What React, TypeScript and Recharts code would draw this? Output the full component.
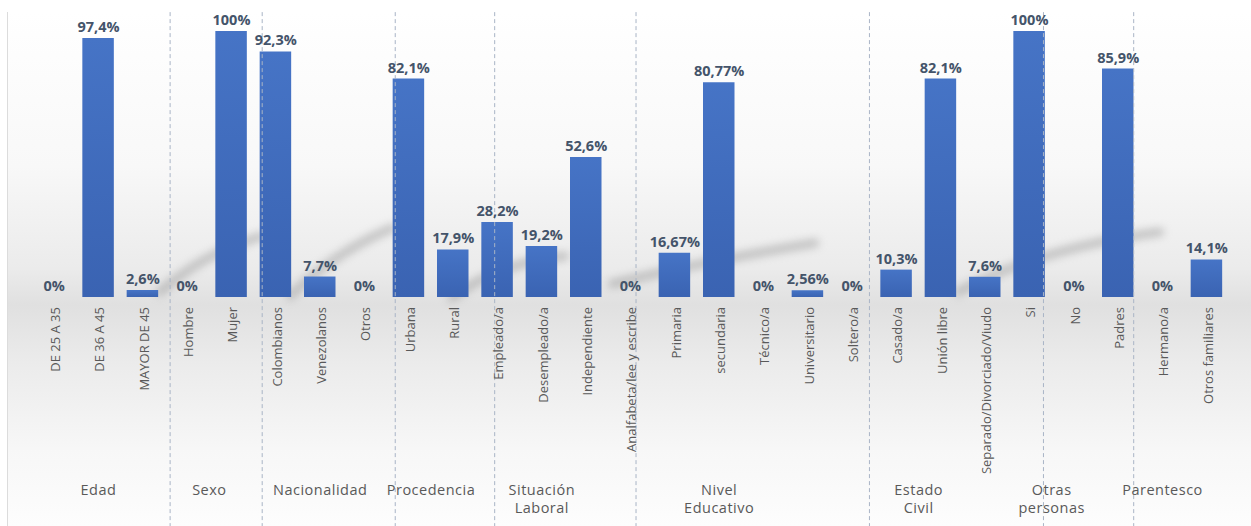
import React from 'react';
import { ComposedChart, Bar, Line, XAxis, YAxis, LabelList, ReferenceLine } from 'recharts';

const categories = [
  'DE 25 A 35', 'DE 36 A 45', 'MAYOR DE 45',
  'Hombre', 'Mujer',
  'Colombianos', 'Venezolanos', 'Otros',
  'Urbana', 'Rural',
  'Empleado/a', 'Desempleado/a', 'Independiente',
  'Analfabeta/lee y escribe', 'Primaria', 'secundaria', 'Técnico/a', 'Universitario',
  'Soltero/a', 'Casado/a', 'Unión libre', 'Separado/Divorciado/Viudo',
  'Si', 'No',
  'Padres', 'Hermano/a', 'Otros familiares',
];

const values = [
  0, 97.4, 2.6,
  0, 100,
  92.3, 7.7, 0,
  82.1, 17.9,
  28.2, 19.2, 52.6,
  0, 16.67, 80.77, 0, 2.56,
  0, 10.3, 82.1, 7.6,
  100, 0,
  85.9, 0, 14.1,
];

const groupNames = [
  ['Edad'], ['Sexo'], ['Nacionalidad'], ['Procedencia'], ['Situación', 'Laboral'],
  ['Nivel', 'Educativo'], ['Estado', 'Civil'], ['Otras', 'personas'], ['Parentesco'],
];
const groupSizes = [3, 2, 3, 2, 3, 5, 4, 2, 3];

// separator positions in category units
const separators = [3.0, 5.0, 7.89, 10.05, 13.12, 18.19, 21.97, 23.93];

const data = categories.map((c, i) => ({ cat: c, value: values[i] }));

const W = 1251;
const H = 526;
const M = { top: 31, right: 22, left: 32, bottom: 0 };
const AXIS_H = 229;
const BW = (W - M.left - M.right) / categories.length;

const groupStart: Record<number, number> = {};
{
  let s = 0;
  groupSizes.forEach((n, g) => {
    groupStart[s] = g;
    s += n;
  });
}

const FONT = '"Open Sans", "DejaVu Sans", sans-serif';

const CatTick = (props: any) => {
  const { x, y, payload, index } = props;
  const g = groupStart[index];
  let groupEl = null;
  if (g !== undefined) {
    const cx = x - BW / 2 + (groupSizes[g] * BW) / 2;
    groupEl = (
      <text
        x={cx}
        y={y + 190}
        textAnchor="middle"
        fill="#595959"
        fontSize={14.5}
        fontFamily={FONT}
        letterSpacing={0.5}
      >
        {groupNames[g].map((ln, k) => (
          <tspan key={k} x={cx} dy={k === 0 ? 0 : 18.3}>
            {ln}
          </tspan>
        ))}
      </text>
    );
  }
  return (
    <g>
      <text
        transform={`translate(${x},${y + 2}) rotate(-90)`}
        textAnchor="end"
        dy="0.45em"
        fill="#595959"
        fontSize={13}
        fontFamily={FONT}
      >
        {payload.value}
      </text>
      {groupEl}
    </g>
  );
};

const fmt = (v: any) => `${String(v).replace('.', ',')}%`;

export default function App() {
  return (
    <div style={{ position: 'absolute', left: 0, top: 0, width: W, height: H, background: '#ffffff', overflow: 'hidden' }}>
      <div
        style={{
          position: 'absolute',
          left: 7,
          top: 12,
          width: W - 7,
          height: H - 12,
          borderLeft: '1.5px solid #dcdcdc',
          background:
            'linear-gradient(to bottom, #ffffff 0%, #f8f8f8 30%, #ebebeb 50%, #e0e0e0 57%, #ebebeb 68%, #f7f7f7 85%, #fdfdfd 100%)',
        }}
      />
      <svg width={W} height={H} style={{ position: 'absolute', left: 0, top: 0 }}>
        <defs>
          <filter id="blurS" x="-20%" y="-50%" width="140%" height="200%">
            <feGaussianBlur stdDeviation="4.5" />
          </filter>
        </defs>
        <g filter="url(#blurS)" stroke="#8f8f8f" strokeWidth={8} fill="none" opacity={0.5} strokeLinecap="round">
          <path d="M160,292 Q205,252 262,236" />
          <path d="M290,296 Q335,252 392,228" />
          <path d="M452,298 Q500,262 565,256" />
          <path d="M612,284 Q700,262 815,243" />
          <path d="M958,292 Q1040,248 1160,232" />
        </g>
      </svg>
      <div style={{ position: 'absolute', left: 0, top: 0 }}>
        <ComposedChart width={W} height={H} data={data} margin={M} barSize={31.5}>
          <defs>
            <linearGradient id="barGrad" x1="0" y1="0" x2="0" y2="1">
              <stop offset="0%" stopColor="#4674C6" />
              <stop offset="100%" stopColor="#3A63B2" />
            </linearGradient>
          </defs>
          <XAxis
            xAxisId="cat"
            dataKey="cat"
            type="category"
            interval={0}
            height={AXIS_H}
            axisLine={false}
            tickLine={false}
            tick={<CatTick />}
          />
          <XAxis xAxisId="num" type="number" domain={[0, categories.length]} hide allowDataOverflow />
          <YAxis hide domain={[0, 100]} />
          {separators.map((s, i) => (
            <ReferenceLine
              key={i}
              xAxisId="num"
              segment={[
                { x: s, y: 107.1 },
                { x: s, y: -86.2 },
              ]}
              ifOverflow="visible"
              stroke="#A9B4C6"
              strokeWidth={1}
              strokeDasharray="4 3"
            />
          ))}
          <Bar xAxisId="cat" dataKey="value" fill="url(#barGrad)" isAnimationActive={false} />
          <Line
            xAxisId="cat"
            dataKey="value"
            stroke="none"
            dot={false}
            activeDot={false}
            isAnimationActive={false}
          >
            <LabelList
              dataKey="value"
              position="top"
              offset={6}
              formatter={fmt}
              fill="#44546A"
              fontSize={14.5}
              fontWeight="bold"
              fontFamily={FONT}
            />
          </Line>
        </ComposedChart>
      </div>
    </div>
  );
}
